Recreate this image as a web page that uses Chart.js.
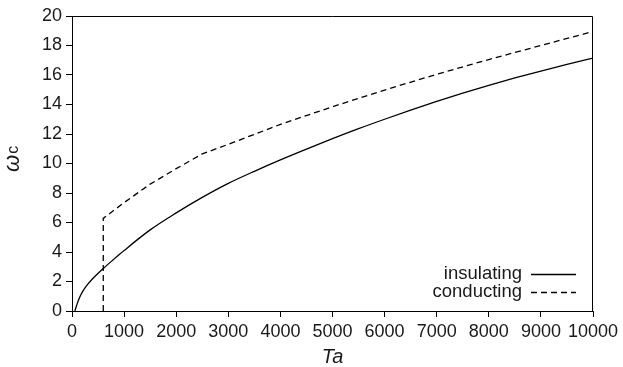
<!DOCTYPE html>
<html>
<head>
<meta charset="utf-8">
<script src="https://cdn.jsdelivr.net/npm/chart.js@4.4.1/dist/chart.umd.min.js"></script>
<style>
html,body{margin:0;padding:0;background:#fff;}
#wrap{width:623px;height:367px;position:relative;}
</style>
</head>
<body>
<div id="wrap"><canvas id="c" width="623" height="367"></canvas></div>
<script>
// ---- data ----
const taInsulating = [55, 100, 150, 200, 300, 400, 600, 800, 1000, 1500, 2000, 2500, 3000, 3500, 4000, 4500, 5000, 5500, 6000, 6500, 7000, 7500, 8000, 8500, 9000, 9500, 10000];
const omegaInsulating = [0, 0.5, 0.95, 1.3, 1.8, 2.2, 2.88, 3.5, 4.1, 5.5, 6.65, 7.7, 8.65, 9.47, 10.24, 10.97, 11.68, 12.36, 13.0, 13.62, 14.21, 14.77, 15.3, 15.8, 16.27, 16.72, 17.15];
const taConducting = [600, 600, 1000, 1500, 2000, 2500, 3000, 4000, 5000, 6000, 7000, 8000, 9000, 10000];
const omegaConducting = [0, 6.28, 7.35, 8.6, 9.65, 10.65, 11.3, 12.65, 13.85, 14.98, 16.05, 17.05, 18.0, 18.95];
const seriesLabels = ['insulating', 'conducting'];
const xTicks = [0, 1000, 2000, 3000, 4000, 5000, 6000, 7000, 8000, 9000, 10000];
const yTicks = [0, 2, 4, 6, 8, 10, 12, 14, 16, 18, 20];
const xTitle = 'Ta';
const yTitleMain = 'ω';
const yTitleSub = 'c';

const toPoints = (xs, ys) => xs.map((x, i) => ({x: x, y: ys[i]}));
const FONT = '"Liberation Sans", Arial, sans-serif';
const TXT = '#1a1a1a';

const framePlugin = {
  id: 'frame',
  afterDraw(chart) {
    const {ctx, chartArea: a} = chart;
    ctx.save();
    ctx.strokeStyle = '#000';
    ctx.lineWidth = 1;
    ctx.beginPath();
    ctx.moveTo(a.left, a.top + 0.5);
    ctx.lineTo(a.right - 0.5, a.top + 0.5);
    ctx.lineTo(a.right - 0.5, a.bottom);
    ctx.stroke();
    // y axis title
    ctx.fillStyle = TXT;
    ctx.translate(19, 172);
    ctx.rotate(-Math.PI / 2);
    ctx.textBaseline = 'alphabetic';
    ctx.textAlign = 'left';
    ctx.font = 'italic 22px ' + FONT;
    ctx.fillText(yTitleMain, 0, 0);
    const w = ctx.measureText(yTitleMain).width;
    ctx.font = '16px ' + FONT;
    ctx.fillText(yTitleSub, w + 1, -1);
    ctx.restore();
    // legend
    ctx.save();
    ctx.font = '18.5px ' + FONT;
    ctx.fillStyle = TXT;
    ctx.textAlign = 'right';
    ctx.textBaseline = 'middle';
    const rows = [274, 292];
    chart.data.datasets.forEach((ds, i) => {
      const y = rows[i];
      ctx.fillText(ds.label, 522, y);
      ctx.strokeStyle = ds.borderColor;
      ctx.lineWidth = ds.borderWidth;
      ctx.setLineDash(ds.borderDash || []);
      ctx.beginPath();
      ctx.moveTo(531, y + 0.5);
      ctx.lineTo(576, y + 0.5);
      ctx.stroke();
    });
    ctx.restore();
  }
};

new Chart(document.getElementById('c'), {
  type: 'line',
  data: {
    datasets: [
      {
        label: seriesLabels[0],
        data: toPoints(taInsulating, omegaInsulating),
        borderColor: '#000',
        borderWidth: 1.3,
        pointRadius: 0,
        fill: false,
        cubicInterpolationMode: 'monotone'
      },
      {
        label: seriesLabels[1],
        data: toPoints(taConducting, omegaConducting),
        borderColor: '#000',
        borderWidth: 1.3,
        borderDash: [6, 4],
        pointRadius: 0,
        fill: false,
        tension: 0
      }
    ]
  },
  options: {
    responsive: false,
    animation: false,
    devicePixelRatio: 1,
    layout: {padding: {left: 0, right: 30, top: 16, bottom: 0}},
    plugins: {legend: {display: false}, tooltip: {enabled: false}},
    scales: {
      x: {
        type: 'linear',
        min: 0, max: 10000,
        afterBuildTicks: (s) => { s.ticks = xTicks.map(v => ({value: v})); },
        afterFit: (s) => { s.height = 56; },
        grid: {display: true, drawOnChartArea: false, drawTicks: true, tickLength: 6, color: '#000', lineWidth: 1},
        border: {display: true, color: '#000', width: 1},
        ticks: {color: TXT, font: {family: FONT, size: 18}, padding: 4, maxRotation: 0, autoSkip: false, callback: (v) => String(v)},
        title: {display: true, text: xTitle, color: TXT, font: {family: FONT, size: 20, style: 'italic', lineHeight: 1.2}, padding: {top: 0, bottom: -2}}
      },
      y: {
        type: 'linear',
        min: 0, max: 20,
        afterBuildTicks: (s) => { s.ticks = yTicks.map(v => ({value: v})); },
        afterFit: (s) => { s.width = 72; },
        grid: {display: true, drawOnChartArea: false, drawTicks: true, tickLength: 6, color: '#000', lineWidth: 1},
        border: {display: true, color: '#000', width: 1},
        ticks: {color: TXT, font: {family: FONT, size: 18}, padding: 4, autoSkip: false, callback: (v) => String(v)}
      }
    }
  },
  plugins: [framePlugin]
});
</script>
</body>
</html>
